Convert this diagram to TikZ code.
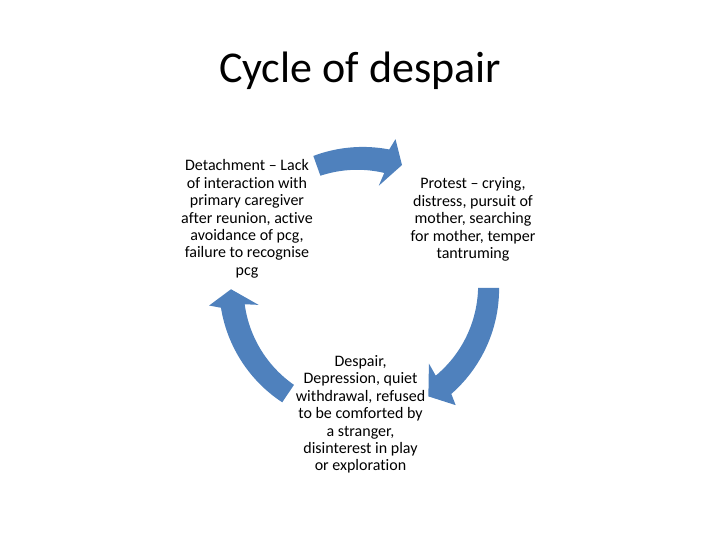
\documentclass[tikz,border=0pt]{standalone}
\usepackage{fontspec}
\setmainfont{Carlito}[Ligatures={NoCommon}]
\definecolor{arrowblue}{HTML}{4F81BD}
\newcommand{\cycarrow}[3]{%
  \fill[arrowblue] plot[domain=#1:#2,samples=30] (\x:{128.6+10.5+1.5*(#1-\x)/(#1-#2)})
    -- (#2-1.5:152) -- (#3:129) -- (#2+1.5:103)
    -- plot[domain=#2:#1,samples=30] (\x:{128.6-10.5-1.5*(#1-\x)/(#1-#2)}) -- cycle;}
\tikzset{
  steptext/.style={align=center, inner sep=0pt, text=black, font=\fontsize{16}{17.4}\selectfont},
  titletext/.style={inner sep=0pt, font=\fontsize{44}{52}\selectfont}
}
\begin{document}
\begin{tikzpicture}[x=1pt,y=1pt]
\useasboundingbox (0,0) rectangle (720,540);
\node[titletext, anchor=base] (title) at (360,457) {Cycle of despair};
\begin{scope}[shift={(360,253)}]
  \cycarrow{109.6}{78}{71}
  \cycarrow{-0.4}{-49.5}{-58}
  \cycarrow{236}{188.5}{181}
\end{scope}
\node[steptext] (detach) at (247,321) {Detachment – Lack\\of interaction with\\primary caregiver\\after reunion, active\\avoidance of pcg,\\failure to recognise\\pcg};
\node[steptext] (protest) at (473,320.5) {Protest – crying,\\distress, pursuit of\\mother, searching\\for mother, temper\\tantruming};
\node[steptext] (despair) at (360.5,125.5) {Despair,\\Depression, quiet\\withdrawal, refused\\to be comforted by\\a stranger,\\disinterest in play\\or exploration};
\end{tikzpicture}
\end{document}
